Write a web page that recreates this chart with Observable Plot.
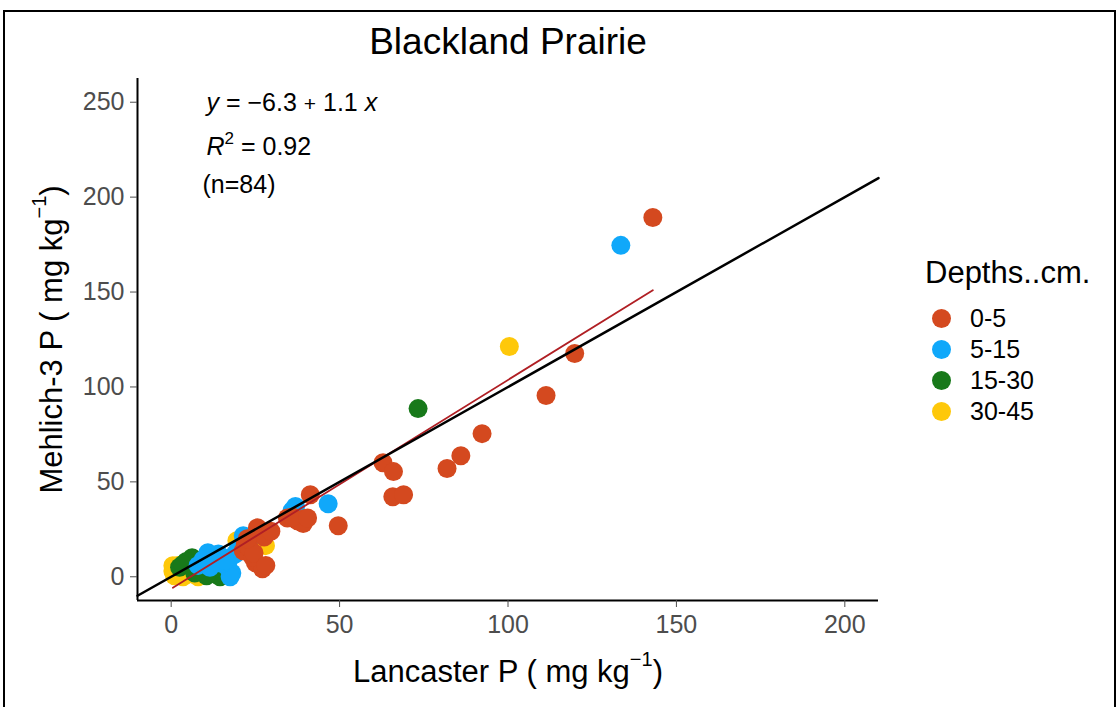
<!DOCTYPE html>
<html>
<head>
<meta charset="utf-8">
<script src="https://cdn.jsdelivr.net/npm/d3@7"></script>
<script src="https://cdn.jsdelivr.net/npm/@observablehq/plot@0.6"></script>
<style>
  body { margin: 0; background: #fff; font-family: "Liberation Sans", Arial, sans-serif; }
  #wrap { position: relative; width: 1120px; height: 707px; overflow: hidden; background: #fff; }
  #chart { position: absolute; left: 0; top: 0; }
  #border { position: absolute; left: 3px; top: 10px; width: 1113px; height: 720px; border: 2px solid #000; box-sizing: border-box; pointer-events: none; }
  #legend { position: absolute; left: 0; top: 0; }
  .lg-title { position: absolute; left: 925px; font-size: 31px; color: #000; white-space: nowrap; line-height: 1; }
  .lg-sw { position: absolute; width: 19px; height: 19px; border-radius: 50%; }
  .lg-lab { position: absolute; left: 970px; font-size: 25px; color: #000; white-space: nowrap; line-height: 1; }
</style>
</head>
<body>
<div id="wrap">
  <div id="chart"></div>
  <div id="legend"></div>
  <div id="border"></div>
</div>
<script>
// Soil P by extraction method, Blackland Prairie samples, grouped by depth (cm)
const depths = ["0-5", "5-15", "15-30", "30-45"];
const depthColors = ["#d4491f", "#10a8fa", "#18791a", "#fec80a"];

// Lancaster P (x) and Mehlich-3 P (y), mg/kg, per depth
const lancaster_0_5 = [143.0, 119.8, 111.3, 92.3, 86.0, 81.9, 62.9, 66.0, 65.8, 69.0, 41.3, 39.5, 49.6, 37.5, 34.5, 39.2, 26.5, 25.6, 21.4, 25.0, 27.1, 22.0, 24.1, 23.1, 27.6, 36.0, 40.5, 24.6, 22.6, 28.1, 29.6];
const mehlich_0_5   = [189.3, 117.6, 95.5, 75.4, 63.8, 57.0, 60.1, 55.4, 42.2, 43.2, 43.2, 30.6, 26.9, 29.5, 31.0, 28.0, 22.7, 25.8, 13.7, 7.4, 4.2, 17.4, 10.5, 15.5, 21.0, 31.5, 31.0, 12.5, 20.0, 6.0, 24.0];

const lancaster_5_15 = [133.5, 46.6, 35.9, 36.9, 21.4, 17.5, 18.0, 10.9, 13.9, 16.9, 17.5, 12.0, 15.0, 19.0, 23.0, 8.0, 14.0, 20.0, 9.5, 16.0, 11.5];
const mehlich_5_15   = [174.6, 38.5, 34.8, 37.0, 21.6, 10.0, 2.0, 12.7, 10.0, 4.7, 0.0, 8.0, 7.0, 12.0, 19.0, 6.0, 12.0, 15.0, 9.0, 8.5, 5.0];

const lancaster_15_30 = [73.3, 6.2, 7.9, 13.0, 14.5, 2.5, 11.0, 9.0, 4.5, 12.5, 16.0, 3.5, 10.5, 7.0, 15.5];
const mehlich_15_30   = [88.6, 10.0, 4.7, 1.6, 0.0, 5.0, 3.0, 7.5, 8.0, 5.5, 1.0, 6.5, 0.5, 2.0, 3.5];

const lancaster_30_45 = [100.4, 28.0, 19.5, 0.5, 0.5, 2.5, 3.5, 5.5, 8.0, 1.5, 4.0, 6.5, 2.0, 10.0, 1.0, 3.0, 5.0];
const mehlich_30_45   = [121.3, 16.4, 19.0, 5.8, 3.0, 3.0, 0.0, 1.6, 0.0, 1.0, 4.5, 2.5, 6.0, 1.0, 0.5, 2.0, 3.5];

// Fitted regression (as printed on the chart)
const intercept = -6.3;
const slope = 1.1;
const rSquared = "0.92";
const nSamples = 84;

const xTicks = [0, 50, 100, 150, 200];
const yTicks = [0, 50, 100, 150, 200, 250];
const xDomain = [-10, 210];
const yDomain = [-12.5, 262.5];

// drawing order: deepest samples underneath, surface samples on top
const series = [
  {depth: "30-45", x: lancaster_30_45, y: mehlich_30_45},
  {depth: "15-30", x: lancaster_15_30, y: mehlich_15_30},
  {depth: "5-15",  x: lancaster_5_15,  y: mehlich_5_15},
  {depth: "0-5",   x: lancaster_0_5,   y: mehlich_0_5}
];
const points = series.flatMap(s => s.x.map((v, i) => ({depth: s.depth, lancaster: v, mehlich: s.y[i]})));

const xExtent = d3.extent(points, d => d.lancaster);
const fitLine = xExtent.map(x => ({x, y: intercept + slope * x}));
const oneToOne = xDomain.map(v => ({x: v, y: v}));

const titleX = "Lancaster P ( mg kg-1)";
const titleY = "Mehlich-3 P ( mg kg-1)";
const eqText = `y = \u22126.3 + 1.1 x`;
const r2Text = `R2 = ${rSquared}`;
const nText = `(n=${nSamples})`;

const chart = Plot.plot({
  width: 1120,
  height: 707,
  marginLeft: 137,
  marginRight: 242,
  marginTop: 78,
  marginBottom: 107,
  style: {fontFamily: "'Liberation Sans', Arial, sans-serif", background: "#fff"},
  x: {domain: xDomain},
  y: {domain: yDomain},
  color: {domain: depths, range: depthColors},
  marks: [
    Plot.dot(points, {x: "lancaster", y: "mehlich", fill: "depth", r: 9.5, stroke: null}),
    Plot.line(fitLine, {x: "x", y: "y", stroke: "#b01f24", strokeWidth: 1.8}),
    Plot.line(oneToOne, {x: "x", y: "y", stroke: "#000", strokeWidth: 2.5}),
    Plot.ruleX([xDomain[0]], {stroke: "#000", strokeWidth: 2}),
    Plot.ruleY([yDomain[0]], {stroke: "#000", strokeWidth: 2}),
    Plot.axisX({ticks: xTicks, tickSize: 7, tickPadding: 8, fontSize: 25, color: "#4d4d4d", label: null}),
    Plot.axisY({ticks: yTicks, tickSize: 7, tickPadding: 6, fontSize: 25, color: "#4d4d4d", label: null}),
    Plot.text(["Blackland Prairie"], {text: d => d, frameAnchor: "top", dy: -36, lineAnchor: "middle", fontSize: 37, fill: "#000"}),
    Plot.text([titleX], {text: d => d, frameAnchor: "bottom", dy: 72, lineAnchor: "middle", textAnchor: "middle", fontSize: 31, fill: "#000"}),
    Plot.text([titleY], {text: d => d, frameAnchor: "left", dx: -85, rotate: -90, lineAnchor: "middle", textAnchor: "middle", fontSize: 31, fill: "#000"}),
    Plot.text([eqText], {text: d => d, frameAnchor: "top-left", dx: 69, dy: 24, lineAnchor: "middle", textAnchor: "start", fontSize: 25, fill: "#000"}),
    Plot.text([r2Text], {text: d => d, frameAnchor: "top-left", dx: 69, dy: 68, lineAnchor: "middle", textAnchor: "start", fontSize: 25, fill: "#000"}),
    Plot.text([nText], {text: d => d, frameAnchor: "top-left", dx: 65, dy: 106, lineAnchor: "middle", textAnchor: "start", fontSize: 25, fill: "#000"})
  ]
});
document.getElementById("chart").appendChild(chart);

// Rich text: italics for the equation variables, raised exponents
const svgns = "http://www.w3.org/2000/svg";
function setRich(el, parts) {
  while (el.firstChild) el.removeChild(el.firstChild);
  for (const p of parts) {
    const ts = document.createElementNS(svgns, "tspan");
    ts.textContent = p.t;
    if (p.italic) ts.setAttribute("font-style", "italic");
    if (p.size) ts.setAttribute("font-size", p.size);
    if (p.dy) ts.setAttribute("dy", p.dy);
    el.appendChild(ts);
  }
}
chart.querySelectorAll("text").forEach(el => {
  const s = el.textContent;
  if (s === titleX || s === titleY) {
    const base = s.slice(0, -3);
    setRich(el, [{t: base}, {t: "\u22121", size: 20, dy: -16}, {t: ")", dy: 16}]);
  } else if (s === eqText) {
    setRich(el, [{t: "y", italic: true}, {t: " = \u22126.3 "}, {t: "+", size: 21}, {t: " 1.1 "}, {t: "x", italic: true}]);
  } else if (s === r2Text) {
    setRich(el, [{t: "R", italic: true}, {t: "2", size: 17, dy: -11}, {t: ` = ${rSquared}`, dy: 11}]);
  }
});

// Legend
const legend = document.getElementById("legend");
const lt = document.createElement("div");
lt.className = "lg-title";
lt.textContent = "Depths..cm.";
lt.style.top = "257px";
legend.appendChild(lt);
depths.forEach((d, i) => {
  const cy = 318 + i * 31;
  const sw = document.createElement("div");
  sw.className = "lg-sw";
  sw.style.left = (941 - 9.5) + "px";
  sw.style.top = (cy - 9.5) + "px";
  sw.style.background = depthColors[i];
  legend.appendChild(sw);
  const lab = document.createElement("div");
  lab.className = "lg-lab";
  lab.textContent = d;
  lab.style.top = (cy - 12) + "px";
  legend.appendChild(lab);
});
</script>
</body>
</html>
